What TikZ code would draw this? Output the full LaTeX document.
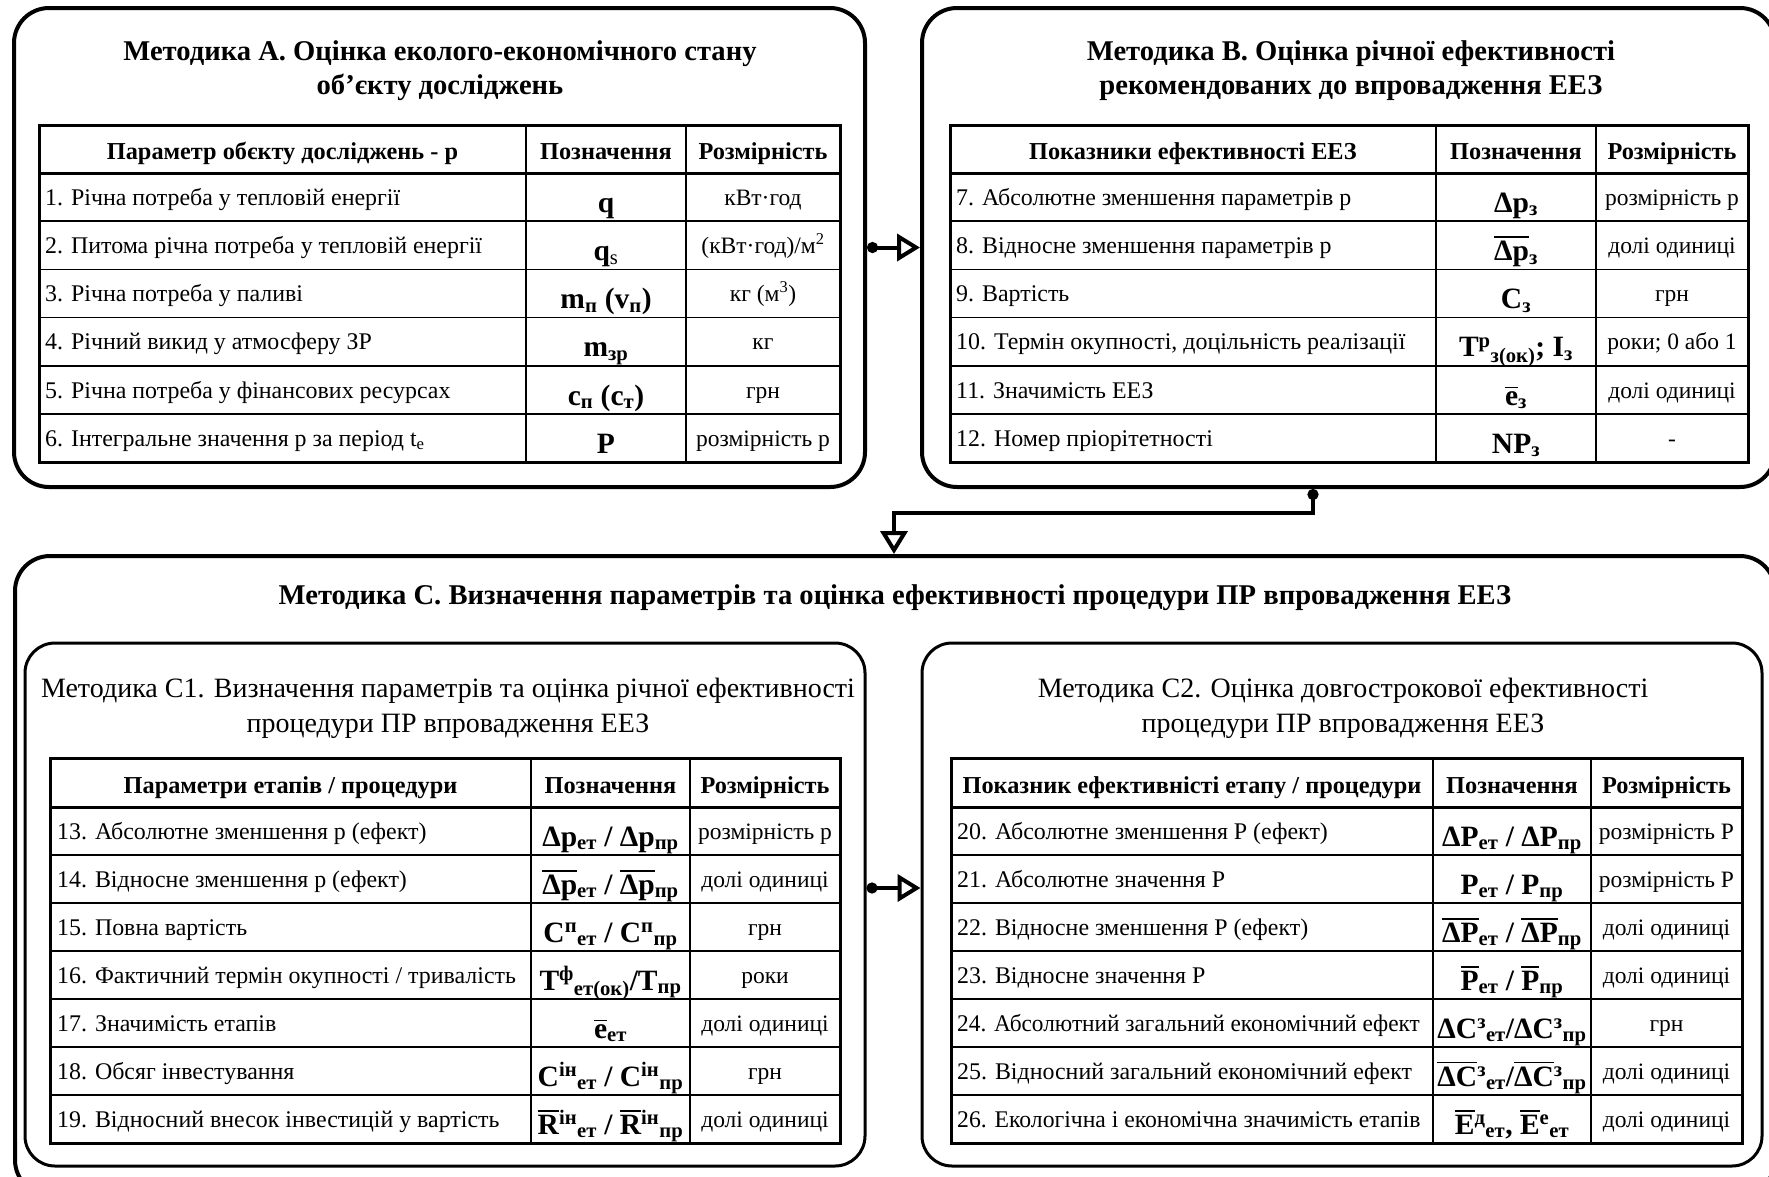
\documentclass[tikz,border=0pt]{standalone}
\usepackage{fontspec}
\setmainfont{Liberation Serif}
\usepackage{graphicx}
\usetikzlibrary{arrows.meta}

\newcommand{\ovl}[1]{\vbox{\hrule height 1.6pt\kern 3pt\hbox{#1}}}
\newcommand{\subx}[1]{\textsubscript{#1}}
\newcommand{\supx}[1]{\textsuperscript{#1}}

\tikzset{
  bigbox/.style={draw, line width=4pt, rounded corners=35pt, inner sep=0pt},
  subbox/.style={draw, line width=3pt, rounded corners=30pt, inner sep=0pt},
  ttl/.style={font=\bfseries\fontsize{28.6}{34}\selectfont, align=center, inner sep=0pt},
  sttl/.style={font=\fontsize{28}{35}\selectfont, align=center, inner sep=0pt},
  hdr/.style={font=\bfseries\fontsize{24.3}{26}\selectfont, anchor=base, inner sep=0pt},
  celltxt/.style={font=\fontsize{23.9}{26}\selectfont, anchor=base west, inner sep=0pt},
  dimtxt/.style={font=\fontsize{23.5}{26}\selectfont, anchor=base, inner sep=0pt},
  symtxt/.style={font=\bfseries\fontsize{29.5}{30}\selectfont, anchor=base, inner sep=0pt},
  gridl/.style={line width=1.5pt},
  gridh/.style={line width=3pt},
  gridb/.style={line width=3pt},
  conn/.style={line width=4pt, {Circle[length=11pt]}-{Triangle[open, length=23pt, width=27pt, fill=white]}},
}

\begin{document}
\begin{tikzpicture}[x=1pt, y=-1pt]
\clip (0,0) rectangle (1769,1176);
\fill[white] (0,0) rectangle (1769,1176);

% ---- boxes
\node[bigbox, minimum width=851pt, minimum height=479pt] (A) at (439.5,247.5) {};
\node[bigbox, minimum width=853pt, minimum height=479pt] (B) at (1348.5,247.5) {};
\node[bigbox, minimum width=1760pt, minimum height=639pt] (C) at (895,875.5) {};
\node[subbox, minimum width=840pt, minimum height=523pt] (C1) at (445,904.5) {};
\node[subbox, minimum width=840pt, minimum height=523pt] (C2) at (1342,904.5) {};

% ---- titles
\node[ttl] (tA) at (440,70.5) {Методика А. Оцінка еколого-економічного стану\\об'єкту досліджень};
\node[ttl] (tB) at (1351,70.5) {Методика В. Оцінка річної ефективності\\рекомендованих до впровадження ЕЕЗ};
\node[ttl] (tC) at (895,598) {Методика С. Визначення параметрів та оцінка ефективності процедури ПР впровадження ЕЕЗ};
\node[sttl] (tC1) at (448,708.5) {Методика С1. Визначення параметрів та оцінка річної ефективності\\процедури ПР впровадження ЕЕЗ};
\node[sttl] (tC2) at (1343,708.5) {Методика С2. Оцінка довгострокової ефективності\\процедури ПР впровадження ЕЕЗ};

% ---- table A grid
\draw[gridl] (526,125) -- (526,462.2) (686,125) -- (686,462.2);
\foreach \k in {1,...,5} \draw[gridl] (39,{173+48.2*\k}) -- (840,{173+48.2*\k});
\draw[gridh] (39,173) -- (840,173);
\draw[gridb] (39,125) rectangle (840,462.2);
% ---- table B grid
\draw[gridl] (1436,125) -- (1436,462.2) (1596,125) -- (1596,462.2);
\foreach \k in {1,...,5} \draw[gridl] (950,{173+48.2*\k}) -- (1748,{173+48.2*\k});
\draw[gridh] (950,173) -- (1748,173);
\draw[gridb] (950,125) rectangle (1748,462.2);
% ---- table C1 grid
\draw[gridl] (531,758) -- (531,1143) (690,758) -- (690,1143);
\foreach \k in {1,...,6} \draw[gridl] (50,{807+48*\k}) -- (840,{807+48*\k});
\draw[gridh] (50,807) -- (840,807);
\draw[gridb] (50,758) rectangle (840,1143);
% ---- table C2 grid
\draw[gridl] (1433,758) -- (1433,1143) (1591,758) -- (1591,1143);
\foreach \k in {1,...,6} \draw[gridl] (951,{807+48*\k}) -- (1742,{807+48*\k});
\draw[gridh] (951,807) -- (1742,807);
\draw[gridb] (951,758) rectangle (1742,1143);

% ---- headers
\node[hdr] (hA1) at (282.5,159) {Параметр обєкту досліджень - р};
\node[hdr] (hA2) at (606,159) {Позначення};
\node[hdr] (hA3) at (763,159) {Розмірність};
\node[hdr] (hB1) at (1193,159) {Показники ефективності ЕЕЗ};
\node[hdr] (hB2) at (1516,159) {Позначення};
\node[hdr] (hB3) at (1672,159) {Розмірність};
\node[hdr] (hC11) at (290.5,793) {Параметри етапів / процедури};
\node[hdr] (hC12) at (610.5,793) {Позначення};
\node[hdr] (hC13) at (765,793) {Розмірність};
\node[hdr] (hC21) at (1192,793) {Показник ефективністі етапу / процедури};
\node[hdr] (hC22) at (1512,793) {Позначення};
\node[hdr] (hC23) at (1666.5,793) {Розмірність};

% ---- table A rows
\foreach \t/\s/\d [count=\k] in {
  {1. Річна потреба у тепловій енергії}/{q}/{кВт·год},
  {2. Питома річна потреба у тепловій енергії}/{q\subx{\mdseries s}}/{(кВт·год)/м\supx{2}},
  {3. Річна потреба у паливі}/{m\subx{п} (v\subx{п})}/{кг (м\supx{3})},
  {4. Річний викид у атмосферу ЗР}/{m\subx{зр}}/{кг},
  {5. Річна потреба у фінансових ресурсах}/{c\subx{п} (c\subx{т})}/{грн},
  {6. Інтегральне значення р за період t\subx{е}}/{P}/{розмірність р}}{
  \node[celltxt] (A\k-t) at (45,{173+48.2*\k-16}) {\t};
  \node[symtxt] (A\k-s) at (606,{173+48.2*\k-9}) {\s};
  \node[dimtxt] (A\k-d) at (763,{173+48.2*\k-16}) {\d};
}
% ---- table B rows
\foreach \t/\s/\d [count=\k] in {
  {7. Абсолютне зменшення параметрів р}/{Δp\subx{з}}/{розмірність р},
  {8. Відносне зменшення параметрів р}/{\ovl{Δp}\subx{з}}/{долі одиниці},
  {9. Вартість}/{C\subx{з}}/{грн},
  {10. Термін окупності, доцільність реалізації}/{T\supx{р}\subx{з(ок)}; I\subx{з}}/{роки; 0 або 1},
  {11. Значимість ЕЕЗ}/{\ovl{e}\subx{з}}/{долі одиниці},
  {12. Номер пріорітетності}/{NP\subx{з}}/{-}}{
  \node[celltxt] (B\k-t) at (956,{173+48.2*\k-16}) {\t};
  \node[symtxt] (B\k-s) at (1516,{173+48.2*\k-9}) {\s};
  \node[dimtxt] (B\k-d) at (1672,{173+48.2*\k-16}) {\d};
}
% ---- table C1 rows
\foreach \t/\s/\d [count=\k] in {
  {13. Абсолютне зменшення р (ефект)}/{Δp\subx{ет} / Δp\subx{пр}}/{розмірність р},
  {14. Відносне зменшення р (ефект)}/{\ovl{Δp}\subx{ет} / \ovl{Δp}\subx{пр}}/{долі одиниці},
  {15. Повна вартість}/{C\supx{п}\subx{ет} / C\supx{п}\subx{пр}}/{грн},
  {16. Фактичний термін окупності / тривалість}/{T\supx{ф}\subx{ет(ок)}/T\subx{пр}}/{роки},
  {17. Значимість етапів}/{\ovl{e}\subx{ет}}/{долі одиниці},
  {18. Обсяг інвестування}/{C\supx{ін}\subx{ет} / C\supx{ін}\subx{пр}}/{грн},
  {19. Відносний внесок інвестицій у вартість}/{\ovl{R}\supx{ін}\subx{ет} / \ovl{R}\supx{ін}\subx{пр}}/{долі одиниці}}{
  \node[celltxt] (C1\k-t) at (57,{807+48*\k-16}) {\t};
  \node[symtxt] (C1\k-s) at (610.5,{807+48*\k-9}) {\s};
  \node[dimtxt] (C1\k-d) at (765,{807+48*\k-16}) {\d};
}
% ---- table C2 rows
\foreach \t/\s/\d [count=\k] in {
  {20. Абсолютне зменшення Р (ефект)}/{ΔP\subx{ет} / ΔP\subx{пр}}/{розмірність Р},
  {21. Абсолютне значення Р}/{P\subx{ет} / P\subx{пр}}/{розмірність Р},
  {22. Відносне зменшення Р (ефект)}/{\ovl{ΔP}\subx{ет} / \ovl{ΔP}\subx{пр}}/{долі одиниці},
  {23. Відносне значення Р}/{\ovl{P}\subx{ет} / \ovl{P}\subx{пр}}/{долі одиниці},
  {\scalebox{0.975}[1]{24. Абсолютний загальний економічний ефект}}/{ΔC\supx{з}\subx{ет}/ΔC\supx{з}\subx{пр}}/{грн},
  {25. Відносний загальний економічний ефект}/{\ovl{ΔC}\supx{з}\subx{ет}/\ovl{ΔC}\supx{з}\subx{пр}}/{долі одиниці},
  {\scalebox{0.99}[1]{26. Екологічна і економічна значимість етапів}}/{\ovl{E}\supx{д}\subx{ет}, \ovl{E}\supx{е}\subx{ет}}/{долі одиниці}}{
  \node[celltxt] (C2\k-t) at (957,{807+48*\k-16}) {\t};
  \node[symtxt] (C2\k-s) at (1512,{807+48*\k-9}) {\s};
  \node[dimtxt] (C2\k-d) at (1666.5,{807+48*\k-16}) {\d};
}

% ---- connectors
\draw[conn] (A.east) -- (B.west);
\draw[conn] (C1.east |- 0,888) -- (C2.west |- 0,888);
\draw[conn] (B.south -| 1313,0) |- (894,513) -- (C.north -| 894,0);
\end{tikzpicture}
\end{document}
